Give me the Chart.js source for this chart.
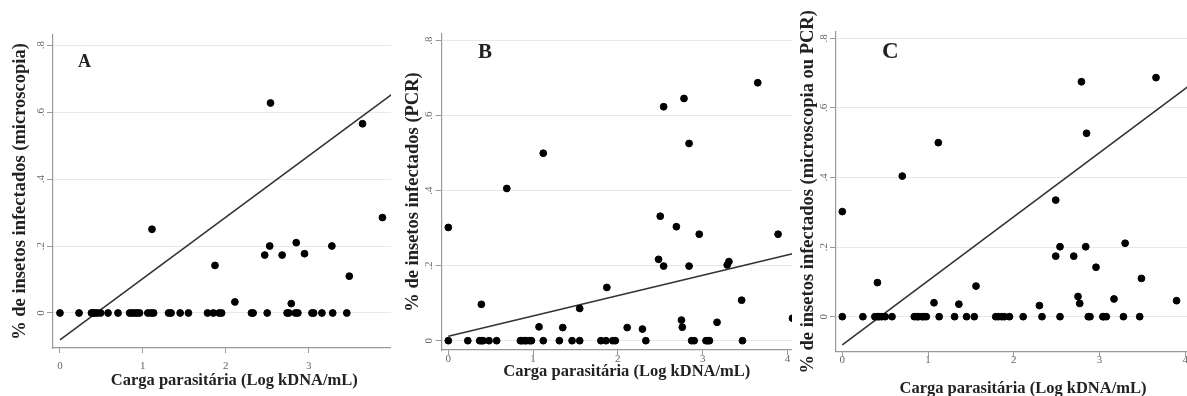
<!DOCTYPE html>
<html>
<head>
<meta charset="utf-8">
<script src="https://cdn.jsdelivr.net/npm/chart.js@4"></script>
<style>
  body { margin: 0; width: 1187px; height: 396px; overflow: hidden; background: #fff; position: relative; }
  .panel { position: absolute; top: 0; height: 396px; background: #fff; }
  .tag { position: absolute; font-family: "Liberation Serif", serif; font-weight: bold; line-height: 1; color: #222; }
</style>
</head>
<body>
<div class="panel" style="left:0; width:420px; z-index:1">
  <canvas id="chart-a" width="420" height="396"></canvas>
  <div class="tag" style="left:78px; top:52px; font-size:18px">A</div>
</div>
<div class="panel" style="left:391px; width:430px; z-index:2">
  <canvas id="chart-b" width="430" height="396"></canvas>
  <div class="tag" style="left:87px; top:41px; font-size:21px">B</div>
</div>
<div class="panel" style="left:792px; width:430px; z-index:3">
  <canvas id="chart-c" width="430" height="396"></canvas>
  <div class="tag" style="left:90px; top:39px; font-size:23px">C</div>
</div>

<script>
// carga parasitaria (log kDNA/mL) and share of infected insects
const cargaA = [0, 0.23, 0.38, 0.40, 0.42, 0.45, 0.49, 0.58, 0.70, 0.84, 0.87, 0.90, 0.93, 0.96, 1.06, 1.10, 1.13,
    1.31, 1.34, 1.45, 1.55, 1.78, 1.85, 1.92, 1.95, 2.31, 2.33, 2.50, 2.74, 2.76, 2.84, 2.87, 3.04, 3.06, 3.16, 3.29, 3.46,
    2.54, 3.65, 1.11, 3.89, 1.87, 2.11, 2.79, 2.47, 2.53, 2.68, 2.85, 2.95, 3.28, 3.49];
const microA = [0, 0, 0, 0, 0, 0, 0, 0, 0, 0, 0, 0, 0, 0, 0, 0, 0,
    0, 0, 0, 0, 0, 0, 0, 0, 0, 0, 0, 0, 0, 0, 0, 0, 0, 0, 0, 0,
    0.627, 0.565, 0.25, 0.285, 0.142, 0.033, 0.028, 0.173, 0.20, 0.173, 0.21, 0.177, 0.20, 0.11];

const cargaB = [0, 0.23, 0.37, 0.39, 0.41, 0.48, 0.57, 0.85, 0.87, 0.90, 0.92, 0.96, 0.98, 1.12, 1.31, 1.46, 1.55,
    1.80, 1.86, 1.94, 1.97, 2.33, 2.87, 2.90, 3.04, 3.06, 3.08, 3.47,
    0, 0.39, 0.69, 1.12, 1.07, 1.35, 1.55, 1.87, 2.11, 2.29, 2.48, 2.50, 2.54, 2.54, 2.69, 2.75, 2.76, 2.78,
    2.84, 2.84, 2.96, 3.17, 3.29, 3.31, 3.46, 3.65, 3.89, 4.06];
const pcrB = [0, 0, 0, 0, 0, 0, 0, 0, 0, 0, 0, 0, 0, 0, 0, 0, 0,
    0, 0, 0, 0, 0, 0, 0, 0, 0, 0, 0,
    0.302, 0.097, 0.406, 0.50, 0.037, 0.035, 0.086, 0.142, 0.035, 0.031, 0.217, 0.332, 0.199, 0.624, 0.304, 0.055, 0.036, 0.646,
    0.526, 0.199, 0.284, 0.049, 0.202, 0.211, 0.108, 0.688, 0.284, 0.06];

const cargaC = [0, 0.24, 0.38, 0.41, 0.43, 0.46, 0.50, 0.58, 0.84, 0.87, 0.89, 0.93, 0.95, 0.98, 1.13, 1.31, 1.45,
    1.54, 1.79, 1.82, 1.86, 1.89, 1.95, 2.11, 2.33, 2.54, 2.87, 2.89, 3.04, 3.05, 3.08, 3.28, 3.47,
    0, 0.41, 0.70, 1.12, 1.07, 1.36, 1.56, 2.30, 2.49, 2.49, 2.54, 2.70, 2.75, 2.77, 2.79, 2.84, 2.85,
    2.96, 3.17, 3.30, 3.49, 3.66, 3.90];
const ambosC = [0, 0, 0, 0, 0, 0, 0, 0, 0, 0, 0, 0, 0, 0, 0, 0, 0,
    0, 0, 0, 0, 0, 0, 0, 0, 0, 0, 0, 0, 0, 0, 0, 0,
    0.302, 0.098, 0.404, 0.50, 0.040, 0.036, 0.088, 0.032, 0.335, 0.174, 0.201, 0.174, 0.058, 0.038, 0.675, 0.201, 0.527,
    0.142, 0.051, 0.211, 0.110, 0.687, 0.046];

// fitted lines (ends)
const fitX = [0, 4.06];
const fitA = [-0.08, 0.663];
const fitB = [0.012, 0.232];
const fitC = [-0.081, 0.666];

const xTicks = [0, 1, 2, 3, 4];
const yTicks = [0, 0.2, 0.4, 0.6, 0.8];

const serif = 'Liberation Serif';

function pairs(xs, ys) {
    return xs.map((x, i) => ({x: x, y: ys[i]}));
}

function panel(id, carga, pct, fit, yLabel, box) {
    return new Chart(document.getElementById(id), {
        type: 'scatter',
        data: {
            datasets: [
                {
                    data: pairs(carga, pct),
                    backgroundColor: '#000',
                    borderColor: '#000',
                    pointRadius: 3.4,
                    pointHoverRadius: 3.4,
                },
                {
                    data: pairs(fitX, fit),
                    showLine: true,
                    borderColor: '#333',
                    borderWidth: 1.6,
                    pointRadius: 0,
                    clip: false,
                },
            ]
        },
        options: {
            responsive: false,
            animation: false,
            layout: {padding: {top: box.top, right: box.right, left: 0, bottom: 0}},
            plugins: {
                legend: {display: false},
                tooltip: {enabled: false},
            },
            scales: {
                x: {
                    type: 'linear',
                    min: box.xmin,
                    max: box.xmax,
                    // only the ticks that are not hidden under the next panel
                    afterBuildTicks: (s) => { s.ticks = xTicks.filter(v => v <= box.xlast).map(v => ({value: v})); },
                    afterFit: (s) => { s.height = box.xh; },
                    grid: {display: true, drawOnChartArea: false, tickLength: 5, tickColor: '#999'},
                    border: {color: '#999', width: 1.2},
                    ticks: {padding: box.xpad, color: '#666', font: {family: serif, size: 11}},
                    title: {
                        display: true,
                        text: 'Carga parasitária (Log kDNA/mL)',
                        color: '#222',
                        font: {family: serif, size: 16.5, weight: 'bold'},
                        padding: {top: 0, bottom: box.xtp},
                    }
                },
                y: {
                    min: box.ymin,
                    max: box.ymax,
                    afterBuildTicks: (s) => { s.ticks = yTicks.map(v => ({value: v})); },
                    afterFit: (s) => { s.width = box.yw; },
                    grid: {color: '#e8e8e8', tickLength: 6, tickColor: '#999'},
                    border: {color: '#999', width: 1.2},
                    ticks: {
                        minRotation: 90,
                        maxRotation: 90,
                        crossAlign: 'center',
                        padding: 2,
                        color: '#666',
                        font: {family: serif, size: 11},
                        callback: (v) => v === 0 ? '0' : String(v).replace('0.', '.'),
                    },
                    title: {
                        display: true,
                        text: yLabel,
                        color: '#222',
                        font: {family: serif, size: 18.5, weight: 'bold'},
                        padding: {top: box.ytp, bottom: 0},
                    }
                }
            }
        }
    });
}

panel('chart-a', cargaA, microA, fitA, '% de insetos infectados (microscopia)',
    {top: 35, right: 3, xh: 48, yw: 53, xmin: -0.084, xmax: 4.29, xlast: 3, ymin: -0.1045, ymax: 0.83,
     xpad: 6.5, xtp: 5.1, ytp: 8.9});

panel('chart-b', cargaB, pcrB, fitB, '% de insetos infectados (PCR)',
    {top: 34, right: 9, xh: 46, yw: 50.7, xmin: -0.078, xmax: 4.29, xlast: 4, ymin: -0.0248, ymax: 0.818,
     xpad: -2, xtp: 14.1, ytp: 10.9});

panel('chart-c', cargaC, ambosC, fitC, '% de insetos infectados (microscopia ou PCR)',
    {top: 32, right: 12, xh: 44.3, yw: 44, xmin: -0.0735, xmax: 4.29, xlast: 4, ymin: -0.1006, ymax: 0.818,
     xpad: -3, xtp: -2.3, ytp: 4.9});
</script>
</body>
</html>
